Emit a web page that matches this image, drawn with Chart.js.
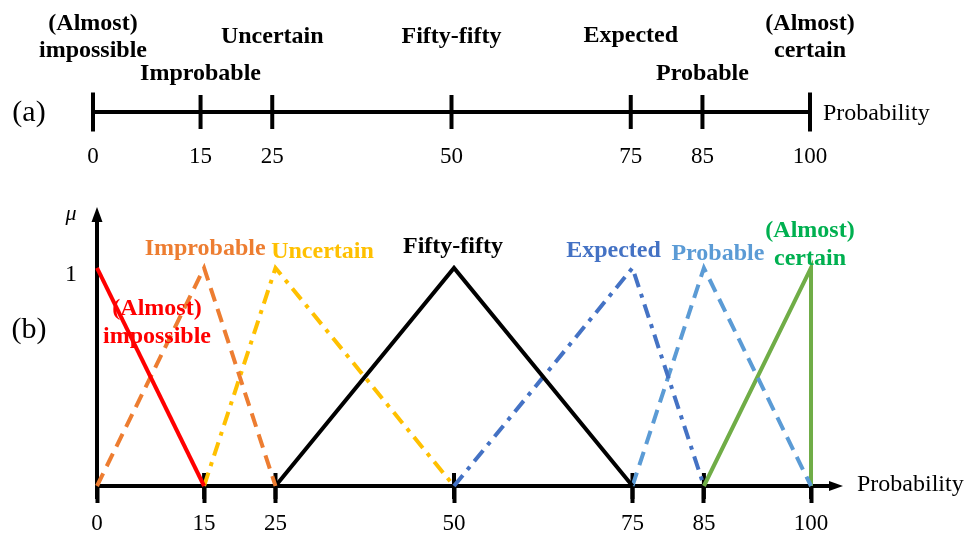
<!DOCTYPE html>
<html>
<head>
<meta charset="utf-8">
<script src="https://cdn.jsdelivr.net/npm/chart.js@4.4.0/dist/chart.umd.min.js"></script>
<style>
  html, body { margin: 0; padding: 0; background: #fff; }
  #wrap { position: relative; width: 979px; height: 536px; }
  #wrap canvas { position: absolute; left: 0; top: 0; }
</style>
</head>
<body>
<div id="wrap">
  <canvas id="scaleChart" width="979" height="536"></canvas>
  <canvas id="memberChart" width="979" height="536"></canvas>
</div>
<script>
// Probability breakpoints, used as tick labels on both axes
const probabilityTicks = [0, 15, 25, 50, 75, 85, 100];

// Verbal probability terms and the probability where each one peaks
const terms = ['(Almost) impossible', 'Improbable', 'Uncertain', 'Fifty-fifty', 'Expected', 'Probable', '(Almost) certain'];
const termPeaks = [0, 15, 25, 50, 75, 85, 100];

// Triangular membership functions: probability (x) and membership mu (y)
const almostImpossibleX = [0, 15];
const almostImpossibleMu = [1, 0];
const improbableX = [0, 15, 25];
const improbableMu = [0, 1, 0];
const uncertainX = [15, 25, 50];
const uncertainMu = [0, 1, 0];
const fiftyFiftyX = [25, 50, 75];
const fiftyFiftyMu = [0, 1, 0];
const expectedX = [50, 75, 85];
const expectedMu = [0, 1, 0];
const probableX = [75, 85, 100];
const probableMu = [0, 1, 0];
const almostCertainX = [85, 100, 100];
const almostCertainMu = [0, 1, 0];

const seriesX = [almostImpossibleX, improbableX, uncertainX, fiftyFiftyX, expectedX, probableX, almostCertainX];
const seriesMu = [almostImpossibleMu, improbableMu, uncertainMu, fiftyFiftyMu, expectedMu, probableMu, almostCertainMu];

// Drawing styles for each term
const lineColors = ['#FF0000', '#ED7D31', '#FFC000', '#000000', '#4472C4', '#5B9BD5', '#70AD47'];
const textColors = ['#FF0000', '#ED7D31', '#FFC000', '#000000', '#4472C4', '#5B9BD5', '#00B050'];
const DASH = [14, 8];
const DASH_DOT = [14, 7, 4, 7];
const lineDashes = [[], DASH, DASH_DOT, [], DASH_DOT, DASH, []];

const SERIF = "'Liberation Serif', 'Times New Roman', serif";
const W = 979, H = 536;

function splitTerm(t) { return t.replace(') ', ')\n').split('\n'); }

function drawLines(ctx, lines, x, y, gap) {
  lines.forEach((ln, i) => ctx.fillText(ln, x, y + i * gap));
}

// ---------- (a) verbal scale on a single probability line ----------
const scaleLabelTop = [24, 74, 37, 37, 36, 74, 24];

const scaleTextPlugin = {
  id: 'scaleText',
  afterDatasetsDraw(chart) {
    const ctx = chart.ctx;
    const xs = chart.scales.x;
    ctx.save();
    ctx.fillStyle = '#000';
    ctx.textAlign = 'center';
    ctx.textBaseline = 'middle';
    ctx.font = 'bold 24px ' + SERIF;
    terms.forEach((t, i) => {
      drawLines(ctx, splitTerm(t), xs.getPixelForValue(termPeaks[i]), scaleLabelTop[i], 27);
    });
    ctx.font = '24px ' + SERIF;
    ctx.textAlign = 'left';
    const yMid = chart.scales.y.getPixelForValue(0);
    ctx.fillText('Probability', xs.getPixelForValue(100) + 13, yMid + 2);
    ctx.font = '30px ' + SERIF;
    ctx.textAlign = 'center';
    ctx.fillText('(a)', 29, yMid + 1);
    ctx.restore();
  }
};

const lastIdx = probabilityTicks.length - 1;

new Chart(document.getElementById('scaleChart'), {
  type: 'scatter',
  data: {
    datasets: [{
      data: probabilityTicks.map(v => ({ x: v, y: 0 })),
      showLine: true,
      borderColor: '#000',
      borderWidth: 4,
      borderCapStyle: 'butt',
      pointStyle: 'line',
      pointRotation: 90,
      pointRadius: c => (c.dataIndex === 0 || c.dataIndex === lastIdx) ? 19.5 : 17,
      pointBorderWidth: 4,
      pointBorderColor: '#000',
      pointBackgroundColor: '#000',
      clip: false
    }]
  },
  options: {
    responsive: false,
    animation: false,
    events: [],
    layout: { padding: { left: 93, right: 169, top: 86, bottom: 0 } },
    plugins: { legend: { display: false }, tooltip: { enabled: false } },
    scales: {
      x: {
        type: 'linear', min: 0, max: 100,
        afterBuildTicks: s => { s.ticks = probabilityTicks.map(v => ({ value: v })); },
        afterFit: s => { s.height = H - 138; },
        grid: { display: false, drawTicks: false },
        border: { display: false },
        ticks: { padding: 5, color: '#000', autoSkip: false, maxRotation: 0, font: { family: SERIF, size: 23 } }
      },
      y: { display: false, min: -1, max: 1 }
    }
  },
  plugins: [scaleTextPlugin]
});

// ---------- (b) membership functions ----------
const memberLabelDx = [60, 1, 47, -1, -19, 14, -1];
const memberLabelDy = [41, -19, -16, -21, -17, -14, -37];

const memberTextPlugin = {
  id: 'memberText',
  afterDatasetsDraw(chart) {
    const ctx = chart.ctx;
    const xs = chart.scales.x, ys = chart.scales.y;
    const a = chart.chartArea;
    const x0 = xs.getPixelForValue(0), y0 = ys.getPixelForValue(0), y1 = ys.getPixelForValue(1);
    ctx.save();
    // arrow heads on both axes
    ctx.fillStyle = '#000';
    ctx.beginPath();
    ctx.moveTo(x0, a.top - 13);
    ctx.lineTo(x0 - 5.5, a.top + 2);
    ctx.lineTo(x0 + 5.5, a.top + 2);
    ctx.closePath();
    ctx.fill();
    ctx.beginPath();
    ctx.moveTo(a.right + 12, y0);
    ctx.lineTo(a.right - 2, y0 - 5);
    ctx.lineTo(a.right - 2, y0 + 5);
    ctx.closePath();
    ctx.fill();

    ctx.textBaseline = 'middle';
    ctx.textAlign = 'center';
    ctx.font = 'bold 24px ' + SERIF;
    terms.forEach((t, i) => {
      ctx.fillStyle = textColors[i];
      drawLines(ctx, splitTerm(t), xs.getPixelForValue(termPeaks[i]) + memberLabelDx[i], y1 + memberLabelDy[i], 28);
    });

    ctx.fillStyle = '#000';
    ctx.textAlign = 'left';
    ctx.font = '24px ' + SERIF;
    ctx.fillText('Probability', a.right + 26, y0 - 1);
    ctx.textAlign = 'center';
    ctx.font = '30px ' + SERIF;
    ctx.fillText('(b)', 29, 330);
    ctx.font = 'italic 22px ' + SERIF;
    ctx.fillText('\u03BC', 71, a.top - 6);
    ctx.restore();
  }
};

const memberDatasets = terms.map((t, i) => ({
  label: t,
  data: seriesX[i].map((x, k) => ({ x: x, y: seriesMu[i][k] })),
  showLine: true,
  borderColor: lineColors[i],
  borderWidth: 4,
  borderDash: lineDashes[i],
  borderCapStyle: 'butt',
  borderJoinStyle: 'miter',
  pointRadius: 0,
  clip: false
}));

// short tick stubs crossing the probability axis
memberDatasets.push({
  label: 'ticks',
  data: probabilityTicks.map(v => ({ x: v, y: 0 })),
  showLine: false,
  pointStyle: 'line',
  pointRotation: 90,
  pointRadius: 13,
  pointBorderWidth: 4,
  pointBorderColor: '#000',
  clip: false
});

new Chart(document.getElementById('memberChart'), {
  type: 'scatter',
  data: { datasets: memberDatasets },
  options: {
    responsive: false,
    animation: false,
    events: [],
    layout: { padding: { left: 0, right: 148, top: 220, bottom: 0 } },
    plugins: { legend: { display: false }, tooltip: { enabled: false } },
    scales: {
      x: {
        type: 'linear', min: 0, max: 102.8,
        afterBuildTicks: s => { s.ticks = probabilityTicks.map(v => ({ value: v })); },
        afterFit: s => { s.height = 50; },
        grid: { drawOnChartArea: false, drawTicks: true, tickLength: 17, tickWidth: 4, tickColor: '#000' },
        border: { display: true, color: '#000', width: 4 },
        ticks: { padding: 7, color: '#000', autoSkip: false, maxRotation: 0, font: { family: SERIF, size: 23 } }
      },
      y: {
        type: 'linear', min: 0, max: 1.22,
        afterBuildTicks: s => { s.ticks = [{ value: 1 }]; },
        afterFit: s => { s.width = 97; },
        grid: { display: false, drawTicks: false },
        border: { display: true, color: '#000', width: 4 },
        ticks: { padding: 20, labelOffset: 7, color: '#000', font: { family: SERIF, size: 24 } }
      }
    }
  },
  plugins: [memberTextPlugin]
});
</script>
</body>
</html>
